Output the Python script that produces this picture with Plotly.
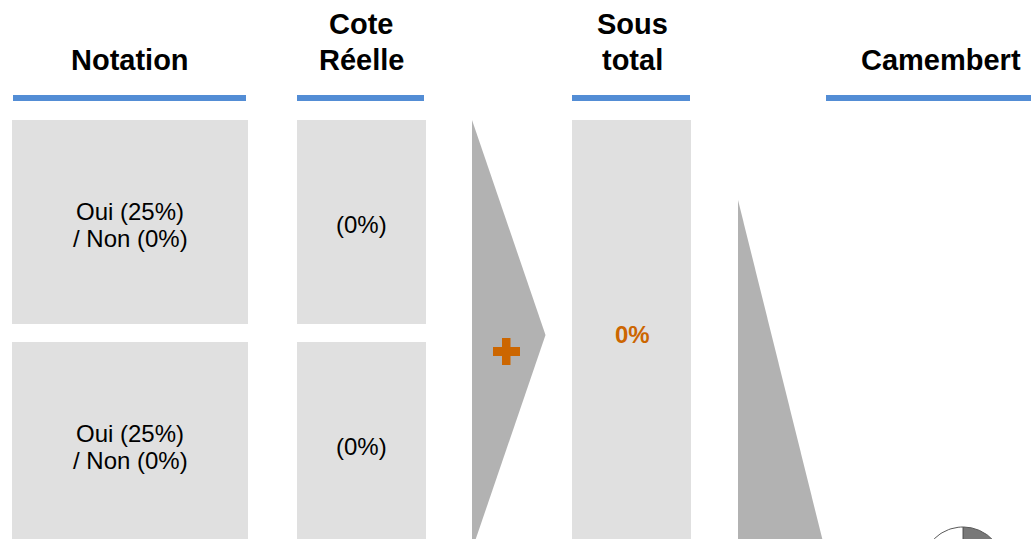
import numpy as np
import plotly.graph_objects as go

# ---- data ----
headers = [["Notation"], ["Cote", "Réelle"], ["Sous", "total"], ["Camembert"]]
notation_lines = [["Oui (25%)", "/ Non (0%)"], ["Oui (25%)", "/ Non (0%)"]]
cote_values = ["(0%)", "(0%)"]
subtotal = "0%"
pie_labels = ["Oui", "Reste"]
pie_values = [25, 75]

BLUE = "#538dd5"
BOX = "#e0e0e0"
ARROW = "#b2b2b2"
ORANGE = "#cc6600"
FONT = "Liberation Sans, Arial, sans-serif"

fig = go.Figure()
shapes = []
ann = []

# header columns: (center x, line x0, x1)
cols = [(130, 13, 246), (361, 297, 424), (632, 572, 690), (941, 826, 1040)]
for (cx, x0, x1), h in zip(cols, headers):
    ys = [60] if len(h) == 1 else [24, 60]
    for t, y in zip(h, ys):
        ann.append(dict(x=cx, y=y, text="<b>" + t + "</b>", showarrow=False,
                        font=dict(family=FONT, size=29, color="#000000"),
                        xanchor="center", yanchor="middle"))
    shapes.append(dict(type="rect", x0=x0, x1=x1, y0=95, y1=101,
                       fillcolor=BLUE, line=dict(width=0), layer="below"))

# boxes
rows = [(120, 324), (342, 560)]
for (y0, y1), lines, cv in zip(rows, notation_lines, cote_values):
    shapes.append(dict(type="rect", x0=12, x1=248, y0=y0, y1=y1,
                       fillcolor=BOX, line=dict(width=0), layer="below"))
    shapes.append(dict(type="rect", x0=297, x1=426, y0=y0, y1=y1,
                       fillcolor=BOX, line=dict(width=0), layer="below"))
    cy = y0 + 104
    for i, t in enumerate(lines):
        ann.append(dict(x=130, y=cy - 13 + 27 * i, text=t, showarrow=False,
                        font=dict(family=FONT, size=24, color="#000000"),
                        xanchor="center", yanchor="middle"))
    ann.append(dict(x=361, y=cy, text=cv, showarrow=False,
                    font=dict(family=FONT, size=24, color="#000000"),
                    xanchor="center", yanchor="middle"))

# subtotal column
shapes.append(dict(type="rect", x0=572, x1=691, y0=120, y1=560,
                   fillcolor=BOX, line=dict(width=0), layer="below"))
ann.append(dict(x=632, y=334, text="<b>" + subtotal + "</b>", showarrow=False,
                font=dict(family=FONT, size=24, color=ORANGE),
                xanchor="center", yanchor="middle"))

# arrows
shapes.append(dict(type="path", path="M 472 120 L 545.5 335 L 472 550 Z",
                   fillcolor=ARROW, line=dict(width=0), layer="below"))
shapes.append(dict(type="path", path="M 738 200 L 830 570 L 738 570 Z",
                   fillcolor=ARROW, line=dict(width=0), layer="below"))

# plus sign
shapes.append(dict(type="rect", x0=493, x1=520, y0=347, y1=356,
                   fillcolor=ORANGE, line=dict(width=0)))
shapes.append(dict(type="rect", x0=502, x1=510.5, y0=338, y1=365,
                   fillcolor=ORANGE, line=dict(width=0)))

# pie (drawn as filled polygons on the data axes)
pcx, pcy, pr = 963, 568, 41
total = sum(pie_values)
start = 0.0
pie_colors = ["#787878", "#ffffff"]
for v, lab, col in zip(pie_values, pie_labels, pie_colors):
    a0 = start / total * 2 * np.pi
    a1 = (start + v) / total * 2 * np.pi
    t = np.linspace(a0, a1, 80)
    xs = np.concatenate([[pcx], pcx + pr * np.sin(t), [pcx]])
    ys = np.concatenate([[pcy], pcy - pr * np.cos(t), [pcy]])
    fig.add_trace(go.Scatter(x=xs, y=ys, fill="toself", fillcolor=col,
                             mode="lines", line=dict(color="#595959", width=1),
                             name=lab, hoverinfo="name"))
    start += v

fig.update_layout(
    width=1031, height=539,
    margin=dict(l=0, r=0, t=0, b=0),
    paper_bgcolor="white", plot_bgcolor="white",
    showlegend=False,
    xaxis=dict(range=[0, 1031], visible=False, fixedrange=True),
    yaxis=dict(range=[539, 0], visible=False, fixedrange=True),
    shapes=shapes, annotations=ann,
)
fig.write_html(
    "out.html",
    config={"displayModeBar": False},
    post_script="document.body.style.margin='0';"
                "document.documentElement.style.overflow='hidden';"
                "document.body.style.overflow='hidden';",
)
